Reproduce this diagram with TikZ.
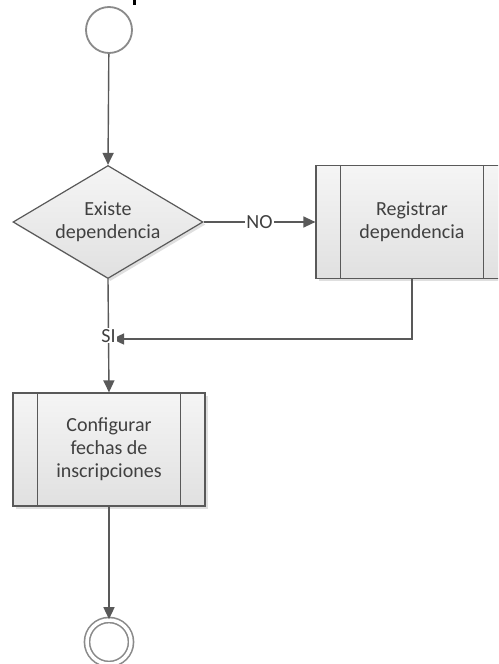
\documentclass[tikz,border=0pt]{standalone}
\usepackage{fontspec}
\setmainfont{Carlito}
\usetikzlibrary{shapes.geometric,arrows.meta,shadows}
\definecolor{lineg}{HTML}{595959}
\definecolor{txtg}{HTML}{404040}
\definecolor{circg}{HTML}{8A8A8A}
\tikzset{
  conn/.style={draw=lineg, line width=1.4pt, -{Triangle[length=12pt,width=11pt]}},
  plain/.style={draw=lineg, line width=1.4pt},
  shapebase/.style={draw=lineg, line width=1.2pt, top color=white!96!black, bottom color=white!88!black,
     text=txtg, font=\fontsize{20}{23}\selectfont, align=center,
     drop shadow={shadow xshift=2.5pt, shadow yshift=-2.5pt, fill=black!25, opacity=0.5}},
  procbox/.style={shapebase, rectangle, minimum width=192pt, minimum height=113pt, inner sep=0pt},
  decision/.style={shapebase, diamond, minimum width=190pt, minimum height=113pt, inner sep=0pt, aspect=1.68},
  startc/.style={circle, draw=circg, line width=1.8pt, fill=white, minimum size=46pt, inner sep=0pt},
  endc/.style={circle, draw=circg, line width=1.6pt, double=white, double distance=3.5pt, fill=white, minimum size=44pt, inner sep=0pt},
  lbl/.style={fill=white, text=txtg, font=\fontsize{20}{23}\selectfont, inner sep=1pt}
}
\begin{document}
\begin{tikzpicture}[x=1pt,y=-1pt]
\useasboundingbox (0,0) rectangle (498,664);
\clip (0,0) rectangle (498,664);
\fill[black] (133,-1) rectangle (136,5);
\node[startc] (start) at (109,30) {};
\node[decision] (dec) at (108,222) {Existe\\dependencia};
\node[procbox] (reg) at (412,222) {Registrar\\dependencia};
\node[procbox] (conf) at (109,449.5) {Configurar\\fechas de\\inscripciones};
\node[endc] (fin) at (109,642) {};
\draw[plain] ([xshift=25pt]reg.north west) -- ([xshift=25pt]reg.south west);
\draw[plain] ([xshift=-25pt]reg.north east) -- ([xshift=-25pt]reg.south east);
\draw[plain] ([xshift=25pt]conf.north west) -- ([xshift=25pt]conf.south west);
\draw[plain] ([xshift=-25pt]conf.north east) -- ([xshift=-25pt]conf.south east);
\coordinate (merge) at (112,339);
\coordinate (corner) at (reg.south |- merge);
\draw[conn] (start) -- (dec.north);
\draw[conn] (dec.east) -- node[lbl] {NO} (reg.west);
\draw[conn] (reg.south) -- (corner) -- (merge);
\draw[conn] (dec.south) -- node[lbl, pos=0.5] {SI} (conf.north);
\draw[conn] (conf.south) -- (fin.north);
\end{tikzpicture}
\end{document}
